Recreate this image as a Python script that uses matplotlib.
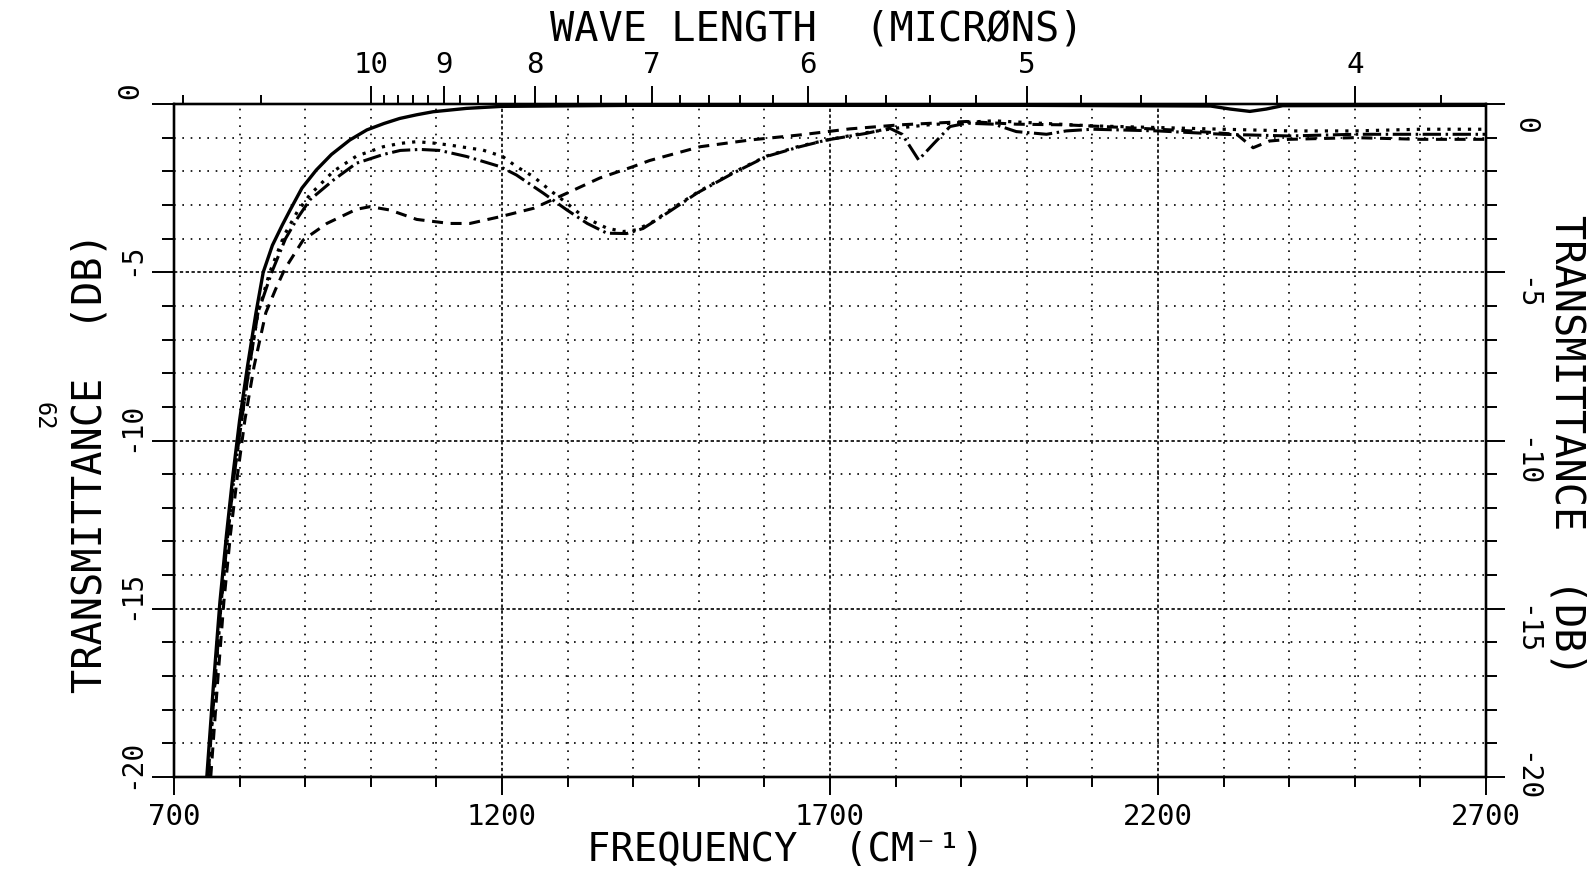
import numpy as np
import matplotlib
matplotlib.use('Agg')
import matplotlib.pyplot as plt
from matplotlib.ticker import FixedLocator, MultipleLocator, NullFormatter

plt.rcParams['font.family'] = ['DejaVu Sans Mono', 'DejaVu Sans']

# ---- data (frequency in cm-1, transmittance in dB) ----
freq_solid = [750, 760, 770, 780, 790, 800, 812, 825, 836, 850, 865, 877, 895, 917, 940,
              968, 994, 1020, 1044, 1070, 1095, 1146, 1200, 1400, 2000, 2280, 2310, 2340,
              2365, 2390, 2700]
db_solid = [-20, -17.3, -14.8, -12.8, -11.0, -9.4, -7.8, -6.2, -5.0, -4.2, -3.6, -3.15, -2.5,
            -1.96, -1.5, -1.07, -0.77, -0.58, -0.43, -0.32, -0.23, -0.13, -0.07, -0.04, -0.04,
            -0.06, -0.15, -0.22, -0.15, -0.05, -0.04]

freq_dashdot = [752, 762, 772, 782, 792, 803, 815, 828, 849, 870, 888, 907, 943, 978, 994,
                1019, 1045, 1075, 1105, 1146, 1197, 1222, 1263, 1299, 1330, 1360, 1390, 1415,
                1451, 1497, 1552, 1603, 1654, 1695, 1756, 1791, 1810, 1835, 1857, 1883, 1908,
                1950, 1984, 2030, 2060, 2100, 2200, 2300, 2400, 2500, 2600, 2700]
db_dashdot = [-20, -17.3, -14.8, -12.8, -11.0, -9.4, -7.8, -6.2, -5.0, -4.0, -3.4, -2.85,
              -2.26, -1.76, -1.66, -1.5, -1.38, -1.35, -1.38, -1.56, -1.86, -2.11, -2.65,
              -3.15, -3.55, -3.84, -3.85, -3.7, -3.25, -2.65, -2.06, -1.56, -1.27, -1.07,
              -0.87, -0.72, -0.9, -1.66, -1.2, -0.67, -0.57, -0.6, -0.82, -0.9, -0.8, -0.75,
              -0.8, -0.9, -0.95, -0.9, -0.9, -0.9]

freq_dotted = [752, 762, 772, 782, 792, 803, 815, 828, 846, 868, 888, 907, 943, 978, 1019,
               1045, 1070, 1095, 1120, 1171, 1201, 1222, 1248, 1273, 1299, 1324, 1360, 1385,
               1405, 1430, 1460, 1500, 1552, 1603, 1654, 1700, 1756, 1800, 1850, 1900, 1950,
               2000, 2100, 2200, 2300, 2400, 2500, 2600, 2700]
db_dotted = [-20, -17.3, -14.8, -12.8, -11.0, -9.4, -7.8, -6.2, -5.0, -3.9, -3.2, -2.7, -2.0,
             -1.55, -1.27, -1.17, -1.12, -1.16, -1.22, -1.37, -1.56, -1.86, -2.16, -2.56,
             -2.95, -3.35, -3.69, -3.79, -3.74, -3.5, -3.1, -2.6, -2.04, -1.55, -1.25, -1.05,
             -0.85, -0.72, -0.62, -0.55, -0.5, -0.55, -0.65, -0.7, -0.75, -0.8, -0.8, -0.75,
             -0.75]

freq_dashed = [756, 766, 776, 786, 797, 808, 822, 840, 855, 869, 897, 933, 978, 999, 1029,
               1070, 1120, 1151, 1197, 1248, 1299, 1349, 1400, 1425, 1502, 1578, 1654, 1730,
               1806, 1908, 1984, 2060, 2150, 2250, 2320, 2345, 2370, 2400, 2500, 2600, 2700]
db_dashed = [-20, -17.3, -14.8, -12.8, -11.0, -9.4, -7.8, -6.2, -5.5, -4.9, -4.04, -3.55,
             -3.13, -3.05, -3.15, -3.43, -3.55, -3.55, -3.35, -3.1, -2.65, -2.2, -1.86, -1.68,
             -1.27, -1.07, -0.92, -0.74, -0.62, -0.52, -0.6, -0.62, -0.7, -0.8, -0.9, -1.3,
             -1.1, -1.05, -1.0, -1.05, -1.05]

freq_ticks = [700, 1200, 1700, 2200, 2700]
wave_major = [10, 9, 8, 7, 6, 5, 4]
db_ticks = [0, -5, -10, -15, -20]

# ---- figure ----
W, H = 1587, 876
fig = plt.figure(figsize=(W / 100, H / 100), dpi=100)
L, R, T, B = 174, 1486, 104, 777
ax = fig.add_axes([L / W, 1 - B / H, (R - L) / W, (B - T) / H])
ax.set_xlim(700, 2700)
ax.set_ylim(-20, 0)

# grid, dotted, with denser lines on the major values
for f in range(800, 2700, 100):
    dense = f in freq_ticks
    ax.axvline(f, color='black', lw=1.2, zorder=1,
               ls=(0, (2, 1.5)) if dense else (0, (1, 4)))
for d in range(-19, 0):
    dense = d in db_ticks
    ax.axhline(d, color='black', lw=1.2, zorder=1,
               ls=(0, (2, 1.5)) if dense else (0, (1, 4)))

# curves
ax.plot(freq_solid, db_solid, color='black', lw=2.4, zorder=3)
ax.plot(freq_dotted, db_dotted, color='black', lw=2.3, ls=(0, (1, 2.2)), zorder=3)
ax.plot(freq_dashdot, db_dashdot, color='black', lw=2.2, ls=(0, (6, 1.5, 0.8, 1.5)), zorder=3)
ax.plot(freq_dashed, db_dashed, color='black', lw=2.2, ls=(0, (3.6, 2.5)), zorder=3)

for s in ax.spines.values():
    s.set_linewidth(1.6)

# bottom axis
ax.xaxis.set_major_locator(FixedLocator(freq_ticks))
ax.xaxis.set_minor_locator(MultipleLocator(100))
ax.tick_params(axis='x', which='major', direction='out', length=13, width=1.4,
               labelsize=21, pad=6)
ax.tick_params(axis='x', which='minor', direction='out', length=7, width=1.4)

# left axis
ax.yaxis.set_major_locator(FixedLocator(db_ticks))
ax.yaxis.set_minor_locator(MultipleLocator(1))
ax.yaxis.set_major_formatter(NullFormatter())
ax.tick_params(axis='y', which='major', direction='out', length=16, width=1.4)
ax.tick_params(axis='y', which='minor', direction='out', length=8.5, width=1.4)

# right axis
ax_r = ax.twinx()
ax_r.set_ylim(-20, 0)
ax_r.yaxis.set_major_locator(FixedLocator(db_ticks))
ax_r.yaxis.set_minor_locator(MultipleLocator(1))
ax_r.yaxis.set_major_formatter(NullFormatter())
ax_r.tick_params(axis='y', which='major', direction='out', length=13.5, width=1.4)
ax_r.tick_params(axis='y', which='minor', direction='out', length=8, width=1.4)
for s in ax_r.spines.values():
    s.set_linewidth(1.6)

# top axis: wave length in microns
ax_t = ax.twiny()
ax_t.set_xlim(700, 2700)
wave_minor = [14, 12] + [round(w, 1) for w in np.arange(3.8, 10, 0.2)
                         if abs(w - round(w)) > 0.05]
ax_t.xaxis.set_major_locator(FixedLocator([1e4 / w for w in wave_major]))
ax_t.xaxis.set_major_formatter(plt.FixedFormatter([str(w) for w in wave_major]))
ax_t.xaxis.set_minor_locator(FixedLocator([1e4 / w for w in wave_minor]))
ax_t.tick_params(axis='x', which='major', direction='out', length=13, width=1.4,
                 labelsize=21, pad=5)
ax_t.tick_params(axis='x', which='minor', direction='out', length=6.5, width=1.4)
for s in ax_t.spines.values():
    s.set_linewidth(1.6)

# rotated y tick labels
ytr = ax.get_yaxis_transform()
for d in db_ticks:
    ax.text(-0.033, d + 0.4, str(d), transform=ytr, rotation=90, fontsize=20,
            ha='center', va='center')
    ax.text(1.03, max(d - 0.65, -20), str(d), transform=ytr, rotation=-90, fontsize=20,
            ha='center', va='center')

# axis titles
fig.text(817 / W, 1 - 30 / H, 'WAVE LENGTH  (MICRØNS)', fontsize=29, ha='center', va='center')
fig.text(786 / W, 1 - 850 / H, 'FREQUENCY  (CM⁻¹)', fontsize=28, ha='center', va='center')
fig.text(91 / W, 1 - 463 / H, 'TRANSMITTANCE  (DB)', fontsize=29, rotation=90,
         ha='center', va='center')
fig.text(1566 / W, 1 - 445 / H, 'TRANSMITTANCE  (DB)', fontsize=29, rotation=-90,
         ha='center', va='center')
fig.text(43 / W, 1 - 416 / H, '62', fontsize=17, rotation=-90, ha='center', va='center')

fig.savefig('out.png', dpi=100)
